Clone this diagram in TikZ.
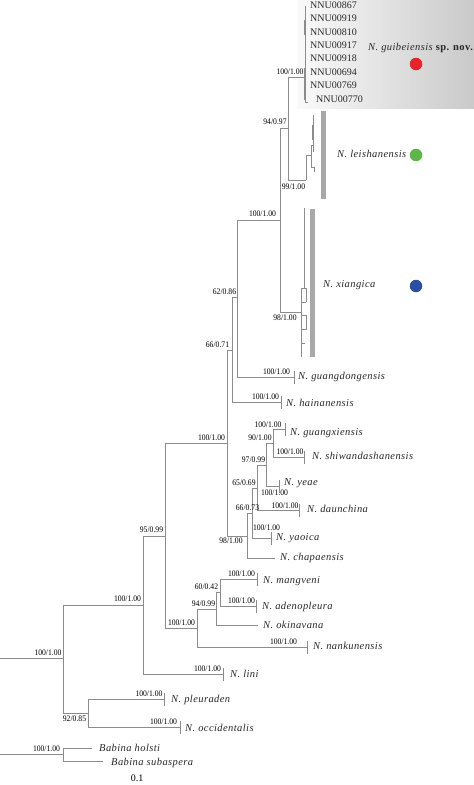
\documentclass[tikz,border=0pt]{standalone}
\usepackage{fontspec}
\setmainfont{Liberation Serif}
\newfontfamily\supfont[FakeStretch=0.9]{Liberation Serif}
\newfontfamily\spfont[LetterSpace=4]{Liberation Serif}
\definecolor{treegray}{RGB}{140,140,140}
\definecolor{bargray}{RGB}{168,168,168}
\definecolor{dotred}{RGB}{232,36,42}
\definecolor{dotgreen}{RGB}{92,182,72}
\definecolor{dotblue}{RGB}{45,78,165}
\definecolor{txtgray}{RGB}{40,40,40}
\tikzset{
  br/.style={draw=treegray, line width=0.65pt},
  sup/.style={font=\supfont\fontsize{8.5}{9}\selectfont, inner sep=0pt, anchor=mid},
  spname/.style={font=\spfont\itshape\fontsize{10.5}{12}\selectfont, text=txtgray, anchor=mid west, inner sep=0pt},
  nnu/.style={font=\fontsize{10}{12}\selectfont, text=txtgray, anchor=mid west, inner sep=0pt},
  dot/.style={circle, inner sep=0pt, minimum size=12.5pt},
}
\begin{document}
\begin{tikzpicture}[x=1pt,y=-1pt]
\useasboundingbox (0,0) rectangle (474,785);
% background shading and bars
\shade[left color=gray!4, right color=gray!42] (297,0) rectangle (474,108);
\fill[bargray] (321,111) rectangle (326,199);
\fill[bargray] (310,209) rectangle (315,357);
% coordinates
\coordinate (r0) at (0,658);
\coordinate (ing) at (63,658);
\coordinate (A) at (143,605);
\coordinate (Q) at (88,713);
\coordinate (pleu) at (164,699);
\coordinate (occ) at (180,727);
\coordinate (lini) at (223,674);
\coordinate (B) at (165,536);
\coordinate (C) at (227,443);
\coordinate (D) at (197,628);
\coordinate (E) at (216,609);
\coordinate (nank) at (307,647);
\coordinate (F) at (220,592.5);
\coordinate (okin) at (258,625);
\coordinate (mang) at (257,579);
\coordinate (aden) at (256,606);
\coordinate (G) at (232,350);
\coordinate (H) at (247,536.5);
\coordinate (M) at (237,297.5);
\coordinate (hain) at (281,402);
\coordinate (N) at (280,220);
\coordinate (gdong) at (294,377);
\coordinate (I) at (252,513);
\coordinate (chap) at (275,558);
\coordinate (J) at (257,488);
\coordinate (yao) at (271,538);
\coordinate (K) at (266,465);
\coordinate (daun) at (299,510);
\coordinate (L) at (273,443);
\coordinate (yeae) at (279,486);
\coordinate (gxi) at (285,429);
\coordinate (shiw) at (304,457);
\coordinate (O) at (288,128);
\coordinate (xia) at (301,312);
\coordinate (P) at (305,77);
\coordinate (lei) at (306,180);
\coordinate (r1) at (0,754.5);
\coordinate (og) at (63,754.5);
\coordinate (bh) at (92,748);
\coordinate (bs) at (103,761);
% branches
\draw[br] (r0) -- (ing);
\draw[br] (ing) |- (A);
\draw[br] (ing) |- (Q);
\draw[br] (Q) |- (pleu);
\draw[br] (Q) |- (occ);
\draw[br] (A) |- (lini);
\draw[br] (A) |- (B);
\draw[br] (B) |- (C);
\draw[br] (B) |- (D);
\draw[br] (D) |- (E);
\draw[br] (D) |- (nank);
\draw[br] (E) |- (F);
\draw[br] (E) |- (okin);
\draw[br] (F) |- (mang);
\draw[br] (F) |- (aden);
\draw[br] (C) |- (G);
\draw[br] (C) |- (H);
\draw[br] (G) |- (M);
\draw[br] (G) |- (hain);
\draw[br] (M) |- (N);
\draw[br] (M) |- (gdong);
\draw[br] (H) |- (I);
\draw[br] (H) |- (chap);
\draw[br] (I) |- (J);
\draw[br] (I) |- (yao);
\draw[br] (J) |- (K);
\draw[br] (J) |- (daun);
\draw[br] (K) |- (L);
\draw[br] (K) |- (yeae);
\draw[br] (L) |- (gxi);
\draw[br] (L) |- (shiw);
\draw[br] (N) |- (O);
\draw[br] (N) |- (xia);
\draw[br] (O) |- (P);
\draw[br] (O) |- (lei);
\draw[br] (r1) -- (og);
\draw[br] (og) |- (bh);
\draw[br] (og) |- (bs);
% tip ticks
\foreach \t in {pleu,occ,lini,nank,mang,aden,hain,gdong,gxi,shiw,yeae,daun,yao}
  \draw[br] ([yshift=6.5pt]\t) -- ([yshift=-6.5pt]\t);
% guibeiensis subtree
\draw[br] (305,6) -- (305,102) -- (308,102);
\draw[br] (304,20) -- (304,35);
\draw[br] (304,68) -- (304,100);
% leishanensis subtree
\draw[br] (lei) -- (306,155) -- (311,155);
\draw[br] (311,145) -- (311,167) -- (314,167);
\draw[br] (311,145) -- (313,145);
\draw[br] (313,115) -- (313,152);
\draw[br] (312,125) -- (312,140);
\draw[br] (314,167) -- (314,172);
% xiangica subtree
\draw[br] (301,288) -- (301,357);
\draw[br] (301,288) -- (306,288);
\draw[br] (304,208) -- (304,288);
\draw[br] (301,302) -- (306,302);
\draw[br] (306,288) -- (306,302);
\draw[br] (302,315) -- (306,315) -- (306,329) -- (302,329);
\draw[br] (301,343) -- (305,343);
% support values
\node[sup] (s1) at (48,653) {100/1.00};
\node[sup] (s2) at (127.5,599.5) {100/1.00};
\node[sup] (s3) at (74.5,719) {92/0.85};
\node[sup] (s4) at (149,694.5) {100/1.00};
\node[sup] (s5) at (163.5,722.5) {100/1.00};
\node[sup] (s6) at (207.5,669) {100/1.00};
\node[sup] (s7) at (151.5,530.5) {95/0.99};
\node[sup] (s8) at (211.5,438.5) {100/1.00};
\node[sup] (s9) at (181.5,623.5) {100/1.00};
\node[sup] (s10) at (203.5,604) {94/0.99};
\node[sup] (s11) at (206.5,587.5) {60/0.42};
\node[sup] (s12) at (241.5,574.5) {100/1.00};
\node[sup] (s13) at (241.5,601.5) {100/1.00};
\node[sup] (s14) at (283.5,642) {100/1.00};
\node[sup] (s15) at (217.5,345.5) {66/0.71};
\node[sup] (s16) at (265.5,397.5) {100/1.00};
\node[sup] (s17) at (224.5,292.5) {62/0.86};
\node[sup] (s18) at (276.5,372) {100/1.00};
\node[sup] (s19) at (262.5,214) {100/1.00};
\node[sup] (s20) at (275,122) {94/0.97};
\node[sup] (s21) at (290,72.5) {100/1.00};
\node[sup] (s22) at (293.5,187) {99/1.00};
\node[sup] (s23) at (285,318) {98/1.00};
\node[sup] (s24) at (231,541.5) {98/1.00};
\node[sup] (s25) at (247.5,508) {66/0.73};
\node[sup] (s26) at (266.5,528) {100/1.00};
\node[sup] (s27) at (244,483) {65/0.69};
\node[sup] (s28) at (285,506) {100/1.00};
\node[sup] (s29) at (253.5,460.5) {97/0.99};
\node[sup] (s30) at (274.5,493) {100/1.00};
\node[sup] (s31) at (260,438.5) {90/1.00};
\node[sup] (s32) at (268,425) {100/1.00};
\node[sup] (s33) at (290,452.5) {100/1.00};
\node[sup] (s34) at (46.5,749.5) {100/1.00};
% species names
\node[spname] (npleu) at (171,700) {N. pleuraden};
\node[spname] (nocc) at (185,729) {N. occidentalis};
\node[spname] (nlini) at (230,675) {N. lini};
\node[spname] (nnank) at (313,647) {N. nankunensis};
\node[spname] (nmang) at (263,581) {N. mangveni};
\node[spname] (naden) at (262,607) {N. adenopleura};
\node[spname] (nokin) at (263,626) {N. okinavana};
\node[spname] (nhain) at (286,404) {N. hainanensis};
\node[spname] (ngdong) at (298,377) {N. guangdongensis};
\node[spname] (ngxi) at (290,433) {N. guangxiensis};
\node[spname] (nshiw) at (312,457) {N. shiwandashanensis};
\node[spname] (nyeae) at (284,483) {N. yeae};
\node[spname] (ndaun) at (307,510) {N. daunchina};
\node[spname] (nyao) at (276,538) {N. yaoica};
\node[spname] (nchap) at (280,558) {N. chapaensis};
\node[spname] (nbh) at (99,749) {Babina holsti};
\node[spname] (nbs) at (111,763) {Babina subaspera};
\node[spname] (nlei) at (337,155) {N. leishanensis};
\node[spname] (nxia) at (323,285) {N. xiangica};
\node[spname] (ngui) at (368,48) {N. guibeiensis {\upshape\bfseries sp. nov.}};
% NNU labels
\node[nnu] (u1) at (310,6) {NNU00867};
\node[nnu] (u2) at (310,19.4) {NNU00919};
\node[nnu] (u3) at (310,32.8) {NNU00810};
\node[nnu] (u4) at (310,46.2) {NNU00917};
\node[nnu] (u5) at (310,59.6) {NNU00918};
\node[nnu] (u6) at (310,73) {NNU00694};
\node[nnu] (u7) at (310,86.4) {NNU00769};
\node[nnu] (u8) at (316,99.8) {NNU00770};
% dots
\node[dot, fill=dotred] (dred) at (416,64) {};
\node[dot, fill=dotgreen] (dgreen) at (416,155) {};
\node[dot, fill=dotblue] (dblue) at (416,286) {};
% scale
\node[font=\fontsize{10}{12}\selectfont, inner sep=0pt, anchor=mid] (scl) at (137,779) {0.1};
\end{tikzpicture}
\end{document}
